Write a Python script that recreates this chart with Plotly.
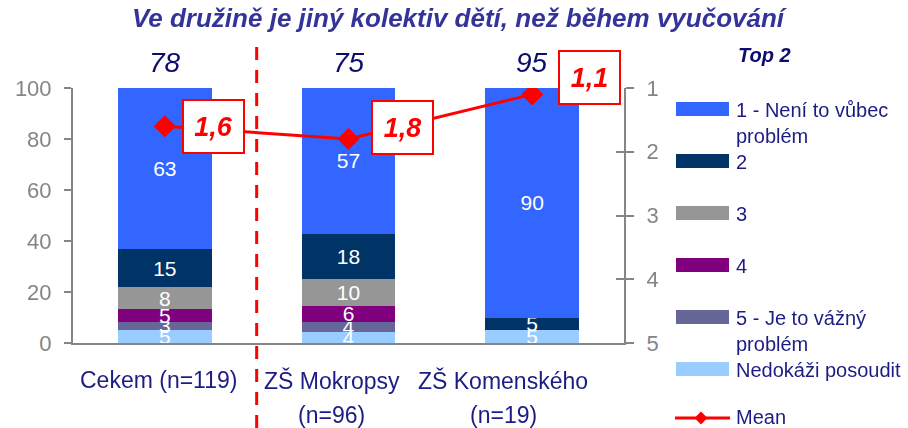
import plotly.graph_objects as go

# ---- data -------------------------------------------------------------
groups = ["Cekem", "ZŠ Mokropsy", "ZŠ Komenského"]
respondents = [119, 96, 19]

series_names = [
    "Nedokáži posoudit",
    "5 - Je to vážný problém",
    "4",
    "3",
    "2",
    "1 - Není to vůbec problém",
]
# share of answers in % per group (bottom of the stack first)
pct_nedokazi = [5.0, 4.2, 5.0]
pct_5 = [3.4, 4.2, 0.0]
pct_4 = [5.0, 6.3, 0.0]
pct_3 = [8.4, 10.4, 0.0]
pct_2 = [15.1, 17.7, 5.0]
pct_1 = [63.0, 57.3, 90.0]

mean_values = [1.6, 1.8, 1.1]

# ---- styling ----------------------------------------------------------
series_colors = ["#99CCFF", "#666699", "#800080", "#969696", "#003366", "#3366FF"]
NAVY = "#1c1c84"
DARK_NAVY = "#0d0d6e"
GRAY = "#858585"
RED = "#FF0000"
FONT = "Liberation Sans, Arial, sans-serif"

W, H = 908, 428
ML, MR, MT, MB = 73, 284, 88, 85
PW = W - ML - MR
PH = H - MT - MB


def px(x):
    return (x - ML) / PW


def py(y):
    return (H - MB - y) / PH


series_pct = [pct_nedokazi, pct_5, pct_4, pct_3, pct_2, pct_1]
top2 = [a + b for a, b in zip(pct_1, pct_2)]
mean_labels = [f"{v:.1f}".replace(".", ",") for v in mean_values]

fig = go.Figure()

for name, vals, col in zip(series_names, series_pct, series_colors):
    fig.add_trace(go.Bar(
        x=groups, y=vals, name=name,
        marker=dict(color=col, line=dict(width=0)),
        width=0.51,
        text=[f"{v:.0f}" if v else "" for v in vals],
        textposition="inside", insidetextanchor="middle",
        textangle=0, constraintext="none",
        textfont=dict(color="white", size=21, family=FONT),
        showlegend=False, hoverinfo="skip",
    ))

fig.add_trace(go.Scatter(
    x=groups, y=mean_values, name="Mean", yaxis="y2",
    mode="lines+markers",
    line=dict(color=RED, width=3),
    marker=dict(symbol="diamond", size=17, color=RED),
    showlegend=False, hoverinfo="skip",
))
# carrier for the inner tick marks on the right axis
fig.add_trace(go.Scatter(
    x=groups, y=mean_values, yaxis="y3", mode="markers",
    opacity=0, showlegend=False, hoverinfo="skip",
))

annotations = []
shapes = []

# category labels under the axis
label_lines = [
    [f"{groups[0]} (n={respondents[0]})"],
    [groups[1], f"(n={respondents[1]})"],
    [groups[2], f"(n={respondents[2]})"],
]
label_xshift = [-6, -17, -29]
for g, lines, dx in zip(groups, label_lines, label_xshift):
    for k, line in enumerate(lines):
        annotations.append(dict(
            x=g, xref="x", y=py(380 + 35 * k), yref="paper",
            xshift=dx, xanchor="center", yanchor="middle",
            text=line, showarrow=False,
            font=dict(size=23, color=NAVY, family=FONT),
        ))

# Top 2 totals above each bar
for g, t in zip(groups, top2):
    annotations.append(dict(
        x=g, y=100, xref="x", yref="y", yshift=26, yanchor="middle",
        text=f"<i>{t:.0f}</i>", showarrow=False,
        font=dict(size=28, color=DARK_NAVY, family=FONT),
    ))

# Mean value boxes
label_shift = [(49, 0), (54, 12), (57, 17)]
for g, m, lab, (dx, dy) in zip(groups, mean_values, mean_labels, label_shift):
    annotations.append(dict(
        x=g, y=m, xref="x", yref="y2", xshift=dx, yshift=dy,
        text=f"<b><i>{lab}</i></b>", showarrow=False,
        font=dict(size=27, color=RED, family=FONT),
        bgcolor="white", bordercolor=RED, borderwidth=2,
        width=59, height=51, borderpad=0,
    ))

annotations.append(dict(
    x=px(765), y=py(55), xref="paper", yref="paper",
    xanchor="center", yanchor="middle",
    text="<b><i>Top 2</i></b>", showarrow=False,
    font=dict(size=20, color=DARK_NAVY, family=FONT),
))

# Legend drawn to the right of the plot
legend_labels = [
    "1 - Není to vůbec<br>problém",
    "2",
    "3",
    "4",
    "5 - Je to vážný<br>problém",
    "Nedokáži posoudit",
]
legend_colors = series_colors[::-1]
for i, (lab, col) in enumerate(zip(legend_labels, legend_colors)):
    c = 109 + 52 * i
    shapes.append(dict(
        type="rect", xref="paper", yref="paper",
        x0=px(676), x1=px(729), y0=py(c + 7), y1=py(c - 7),
        fillcolor=col, line=dict(width=0),
    ))
    annotations.append(dict(
        x=px(734), y=py(c - 12), xref="paper", yref="paper",
        xanchor="left", yanchor="top", align="left",
        text=lab, showarrow=False,
        font=dict(size=20, color=NAVY, family=FONT),
    ))

cm = 418
shapes.append(dict(
    type="line", xref="paper", yref="paper",
    x0=px(675), x1=px(730), y0=py(cm), y1=py(cm),
    line=dict(color=RED, width=3),
))
dxp, dyp = 6.5 / PW, 6.5 / PH
cx, cy = px(701), py(cm)
shapes.append(dict(
    type="path", xref="paper", yref="paper",
    path=f"M{cx - dxp},{cy} L{cx},{cy + dyp} L{cx + dxp},{cy} L{cx},{cy - dyp} Z",
    fillcolor=RED, line=dict(color=RED, width=0),
))
annotations.append(dict(
    x=px(734), y=py(cm - 1), xref="paper", yref="paper",
    xanchor="left", yanchor="middle",
    text="Mean", showarrow=False,
    font=dict(size=20, color=NAVY, family=FONT),
))

# dashed separator between total and schools
shapes.append(dict(
    type="line", xref="x", yref="paper",
    x0=0.5, x1=0.5, y0=py(428), y1=py(46),
    line=dict(color=RED, width=3, dash="13px,10px"),
    layer="above",
))

fig.update_layout(
    width=W, height=H,
    margin=dict(l=ML, r=MR, t=MT, b=MB, pad=0),
    barmode="stack",
    plot_bgcolor="white", paper_bgcolor="white",
    font=dict(family=FONT),
    showlegend=False,
    title=dict(
        text="<b><i>Ve družině je jiný kolektiv dětí, než během vyučování</i></b>",
        x=458 / W, xref="container", xanchor="center",
        y=1 - 18 / H, yref="container", yanchor="middle",
        font=dict(size=26, color="#333399", family=FONT),
    ),
    xaxis=dict(
        range=[-0.5, 2.5], showline=True, linecolor=GRAY, linewidth=2,
        ticks="", showgrid=False, zeroline=False, showticklabels=False,
    ),
    yaxis=dict(
        range=[0, 100], dtick=20, showline=True, linecolor=GRAY, linewidth=2,
        ticks="outside", ticklen=7, tickcolor=GRAY, tickwidth=2,
        showgrid=False, zeroline=False,
        tickfont=dict(size=22, color=GRAY, family=FONT),
        ticklabelstandoff=8,
    ),
    yaxis2=dict(
        range=[5, 1], dtick=1, overlaying="y", side="right", anchor="x",
        showline=True, linecolor=GRAY, linewidth=2,
        ticks="outside", ticklen=8, tickcolor=GRAY, tickwidth=2,
        showgrid=False, zeroline=False,
        tickfont=dict(size=22, color=GRAY, family=FONT),
        ticklabelstandoff=8,
    ),
    yaxis3=dict(
        range=[5, 1], dtick=1, overlaying="y", side="right", anchor="x",
        showline=False, ticks="inside", ticklen=8, tickcolor=GRAY, tickwidth=2,
        showticklabels=False, showgrid=False, zeroline=False,
    ),
    annotations=annotations,
    shapes=shapes,
)

fig.write_html("out.html")
